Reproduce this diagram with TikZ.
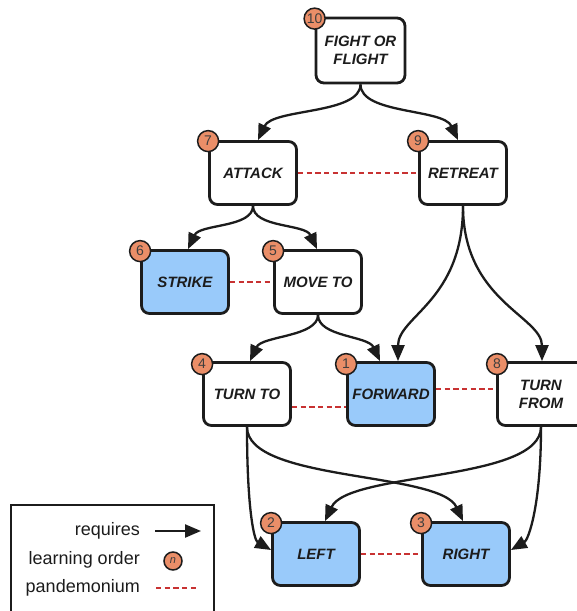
\documentclass[tikz,border=0pt]{standalone}
\usepackage{fontspec}
\setmainfont{Liberation Sans}
\usetikzlibrary{arrows.meta}
\definecolor{boxblue}{RGB}{153,202,250}
\definecolor{badgeorange}{RGB}{234,142,104}
\definecolor{pandred}{RGB}{200,50,50}
\definecolor{ink}{RGB}{28,28,28}

\begin{document}
\begin{tikzpicture}[x=1pt,y=1pt,
  box/.style={draw=ink, line width=2.8pt, rounded corners=8pt, fill=white,
    minimum width=87pt, minimum height=63pt, inner sep=2pt, align=center,
    text=ink, font=\bfseries\itshape\fontsize{15}{18}\selectfont},
  learned/.style={box, fill=boxblue},
  badge/.style={circle, draw=ink, line width=1.5pt, fill=badgeorange,
    minimum size=21pt, inner sep=0pt, text=ink!85,
    font=\fontsize{14}{14}\selectfont},
  req/.style={draw=ink, line width=2.3pt, -{Triangle[length=16pt,width=13pt]}},
  pand/.style={draw=pandred, line width=2.7pt, dash pattern=on 5.2pt off 3.5pt},
  legtext/.style={inner sep=0pt, text=ink, font=\fontsize{18}{21}\selectfont},
]
\useasboundingbox (0,0) rectangle (577,-611);
\clip (0,0) rectangle (577,-611);

% behaviour boxes
\node[box, minimum width=89pt, minimum height=65pt] (fight) at (360.5,-50.5) {FIGHT OR\\FLIGHT};
\node[box] (attack) at (253,-173) {ATTACK};
\node[box] (retreat) at (463,-173) {RETREAT};
\node[learned] (strike) at (185,-282) {STRIKE};
\node[box] (moveto) at (318,-282) {MOVE TO};
\node[box] (turnto) at (247,-394) {TURN TO};
\node[learned] (forward) at (391,-394) {FORWARD};
\node[box] (turnfrom) at (541,-394) {TURN\\FROM};
\node[learned] (left) at (316,-554) {LEFT};
\node[learned] (right) at (466,-554) {RIGHT};

% pandemonium links
\draw[pand] (attack.east) -- (retreat.west);
\draw[pand] (strike.east) -- (moveto.west);
\draw[pand] ([yshift=-13pt]turnto.east) -- ([yshift=-13pt]forward.west);
\draw[pand] ([yshift=5pt]forward.east) -- ([yshift=5pt]turnfrom.west);
\draw[pand] (left.east) -- (right.west);

% requirement arrows
\draw[req] (fight.south) to[out=-90,in=65,out distance=30pt,in distance=35pt] ([xshift=5pt]attack.north);
\draw[req] (fight.south) to[out=-90,in=115,out distance=30pt,in distance=35pt] ([xshift=-5pt]retreat.north);
\draw[req] (attack.south) to[out=-90,in=65,out distance=22pt,in distance=28pt] ([xshift=3pt]strike.north);
\draw[req] (attack.south) to[out=-90,in=115,out distance=22pt,in distance=28pt] ([xshift=-1pt]moveto.north);
\draw[req] (moveto.south) to[out=-90,in=65,out distance=22pt,in distance=28pt] ([xshift=3pt]turnto.north);
\draw[req] (moveto.south) to[out=-90,in=115,out distance=22pt,in distance=28pt] ([xshift=-11pt]forward.north);
\draw[req] (retreat.south) to[out=-90,in=90,out distance=95pt,in distance=45pt] ([xshift=7pt]forward.north);
\draw[req] (retreat.south) to[out=-90,in=90,out distance=95pt,in distance=45pt] ([xshift=1pt]turnfrom.north);
\draw[req] (turnto.south) to[out=-90,in=150,out distance=80pt,in distance=20pt] ([yshift=4pt]left.west);
\draw[req] (turnfrom.south) to[out=-90,in=30,out distance=80pt,in distance=20pt] ([yshift=4pt]right.east);
\draw[req] (turnto.south) to[out=-90,in=115,out distance=55pt,in distance=55pt] ([xshift=-3pt]right.north);
\draw[req] (turnfrom.south) to[out=-90,in=65,out distance=55pt,in distance=55pt] ([xshift=9pt]left.north);

% learning order badges
\node[badge] (o10) at ([yshift=-2pt]fight.north west) {10};
\node[badge] (o7) at ([yshift=-1pt]attack.north west) {7};
\node[badge] (o9) at ([yshift=-1pt]retreat.north west) {9};
\node[badge] (o6) at ([yshift=-2pt]strike.north west) {6};
\node[badge] (o5) at ([yshift=-2pt]moveto.north west) {5};
\node[badge] (o4) at ([yshift=-3pt]turnto.north west) {4};
\node[badge] (o1) at ([yshift=-3pt]forward.north west) {1};
\node[badge] (o8) at ([xshift=1pt,yshift=-3pt]turnfrom.north west) {8};
\node[badge] (o2) at ([yshift=-2pt]left.north west) {2};
\node[badge] (o3) at ([yshift=-2pt]right.north west) {3};

% legend
\node[draw=ink, line width=2pt, minimum width=203pt, minimum height=120pt,
  anchor=north west, inner sep=0pt] (legend) at (10,-504) {};
\node[legtext, anchor=east] (lreq) at (140,-531) {requires};
\node[legtext, anchor=east] (lord) at (140,-560) {learning order};
\node[legtext, anchor=east] (lpan) at (140,-588) {pandemonium};
\coordinate (reqa) at (155,-531);
\coordinate (reqb) at (201,-531);
\draw[req] (reqa) -- (reqb);
\node[badge, minimum size=18pt, font=\itshape\fontsize{11}{11}\selectfont] (nbadge) at (173,-561) {n};
\coordinate (pana) at (156,-588);
\coordinate (panb) at (196,-588);
\draw[pand] (pana) -- (panb);
\end{tikzpicture}
\end{document}
